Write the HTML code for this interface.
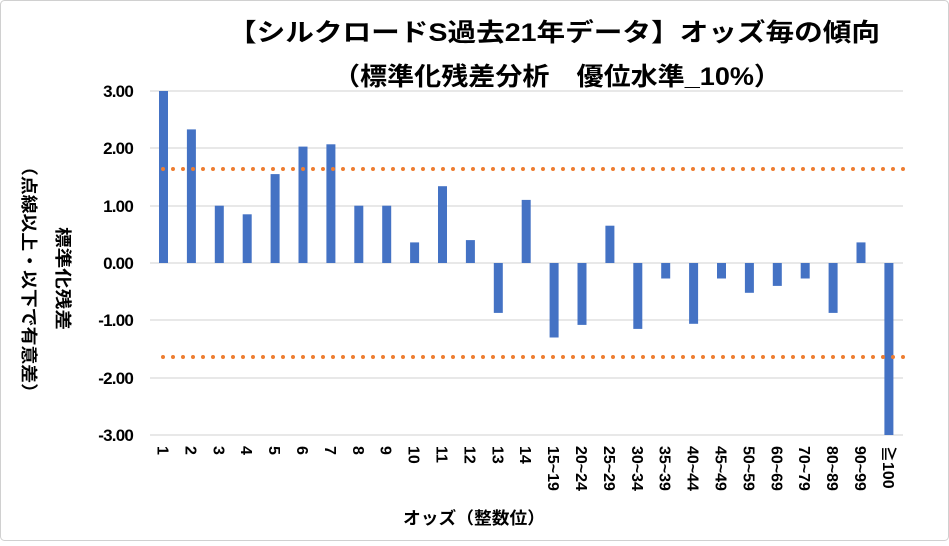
<!DOCTYPE html>
<html><head><meta charset="utf-8"><style>
html,body{margin:0;padding:0;background:#fff;}
svg text{font-family:"Liberation Sans","Noto Sans CJK JP",sans-serif;font-weight:bold;fill:#000;}
</style></head><body>
<svg width="949" height="541" viewBox="0 0 949 541" xmlns="http://www.w3.org/2000/svg">
<rect x="0.5" y="0.5" width="948" height="540" rx="4" fill="#fff" stroke="#d0d0d0"/>
<text x="228" y="41" font-size="25" textLength="652" lengthAdjust="spacingAndGlyphs">【シルクロードS過去21年データ】オッズ毎の傾向</text>
<text x="333" y="85" font-size="25" textLength="448" lengthAdjust="spacingAndGlyphs">（標準化残差分析　優位水準_10%）</text>
<g stroke="#d9d9d9" stroke-width="1.3">
<line x1="150" x2="903" y1="91" y2="91"/><line x1="150" x2="903" y1="148" y2="148"/>
<line x1="150" x2="903" y1="206" y2="206"/><line x1="150" x2="903" y1="263" y2="263"/>
<line x1="150" x2="903" y1="320" y2="320"/><line x1="150" x2="903" y1="378" y2="378"/>
<line x1="150" x2="903" y1="435" y2="435"/>
</g>
<g font-size="17" text-anchor="end" letter-spacing="-0.8">
<text x="133" y="97">3.00</text><text x="133" y="154">2.00</text><text x="133" y="212">1.00</text>
<text x="133" y="269">0.00</text><text x="133" y="326">-1.00</text><text x="133" y="384">-2.00</text>
<text x="133" y="441">-3.00</text>
</g>
<text transform="translate(57,227) rotate(90)" font-size="17" textLength="103" lengthAdjust="spacingAndGlyphs">標準化残差</text>
<text transform="translate(23,157) rotate(90)" font-size="17" textLength="245" lengthAdjust="spacingAndGlyphs">（点線以上・以下で有意差）</text>
<g fill="#4472c4">
<rect x="159" y="91" width="9" height="172"/>
<rect x="186.9" y="129.4" width="9" height="133.6"/>
<rect x="214.8" y="205.7" width="9" height="57.3"/>
<rect x="242.7" y="214.3" width="9" height="48.7"/>
<rect x="270.6" y="174.1" width="9" height="88.9"/>
<rect x="298.5" y="146.6" width="9" height="116.4"/>
<rect x="326.4" y="144.3" width="9" height="118.7"/>
<rect x="354.3" y="205.7" width="9" height="57.3"/>
<rect x="382.2" y="205.7" width="9" height="57.3"/>
<rect x="410.1" y="242.4" width="9" height="20.6"/>
<rect x="438" y="186.2" width="9" height="76.8"/>
<rect x="465.9" y="240.1" width="9" height="22.9"/>
<rect x="493.8" y="263" width="9" height="49.9"/>
<rect x="521.7" y="199.9" width="9" height="63.1"/>
<rect x="549.6" y="263" width="9" height="74.5"/>
<rect x="577.5" y="263" width="9" height="61.9"/>
<rect x="605.4" y="225.7" width="9" height="37.3"/>
<rect x="633.3" y="263" width="9" height="65.9"/>
<rect x="661.2" y="263" width="9" height="15.5"/>
<rect x="689.1" y="263" width="9" height="60.8"/>
<rect x="717" y="263" width="9" height="15.5"/>
<rect x="744.9" y="263" width="9" height="29.8"/>
<rect x="772.8" y="263" width="9" height="22.9"/>
<rect x="800.7" y="263" width="9" height="15.5"/>
<rect x="828.6" y="263" width="9" height="49.9"/>
<rect x="856.5" y="242.4" width="9" height="20.6"/>
<rect x="884.4" y="263" width="9" height="172"/>
</g>
<g font-size="16">
<text transform="translate(157.5,446) rotate(90)">1</text>
<text transform="translate(185.4,446) rotate(90)">2</text>
<text transform="translate(213.3,446) rotate(90)">3</text>
<text transform="translate(241.2,446) rotate(90)">4</text>
<text transform="translate(269.1,446) rotate(90)">5</text>
<text transform="translate(297,446) rotate(90)">6</text>
<text transform="translate(324.9,446) rotate(90)">7</text>
<text transform="translate(352.8,446) rotate(90)">8</text>
<text transform="translate(380.7,446) rotate(90)">9</text>
<text transform="translate(408.6,446) rotate(90)">10</text>
<text transform="translate(436.5,446) rotate(90)">11</text>
<text transform="translate(464.4,446) rotate(90)">12</text>
<text transform="translate(492.3,446) rotate(90)">13</text>
<text transform="translate(520.2,446) rotate(90)">14</text>
<text transform="translate(548.1,446) rotate(90)">15~19</text>
<text transform="translate(576,446) rotate(90)">20~24</text>
<text transform="translate(603.9,446) rotate(90)">25~29</text>
<text transform="translate(631.8,446) rotate(90)">30~34</text>
<text transform="translate(659.7,446) rotate(90)">35~39</text>
<text transform="translate(687.6,446) rotate(90)">40~44</text>
<text transform="translate(715.5,446) rotate(90)">45~49</text>
<text transform="translate(743.4,446) rotate(90)">50~59</text>
<text transform="translate(771.3,446) rotate(90)">60~69</text>
<text transform="translate(799.2,446) rotate(90)">70~79</text>
<text transform="translate(827.1,446) rotate(90)">80~89</text>
<text transform="translate(855,446) rotate(90)">90~99</text>
<text transform="translate(882.9,446) rotate(90)">≧100</text>
</g>
<line x1="163" x2="905" y1="169" y2="169" stroke="#ed7d31" stroke-width="4" stroke-linecap="round" stroke-dasharray="0 10"/>
<line x1="163" x2="905" y1="357" y2="357" stroke="#ed7d31" stroke-width="4" stroke-linecap="round" stroke-dasharray="0 10"/>
<text x="403" y="524" font-size="17" textLength="142" lengthAdjust="spacingAndGlyphs">オッズ（整数位）</text>
</svg>
</body></html>
